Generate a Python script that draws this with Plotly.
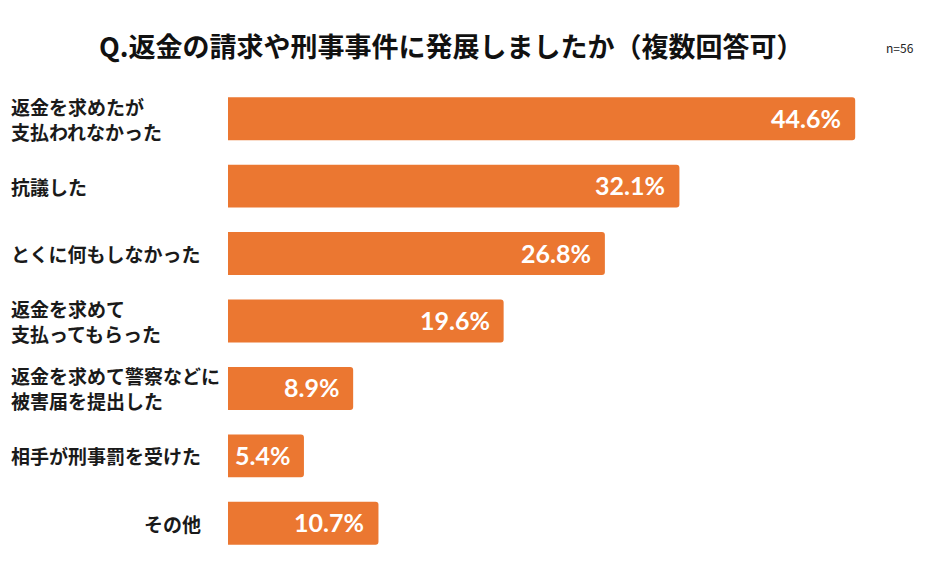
import plotly.graph_objects as go

categories = ["返金を求めたが<br>支払われなかった", "抗議した", "とくに何もしなかった",
              "返金を求めて<br>支払ってもらった", "返金を求めて警察などに<br>被害届を提出した",
              "相手が刑事罰を受けた", "その他"]
values = [44.6, 32.1, 26.8, 19.6, 8.9, 5.4, 10.7]
value_labels = ["44.6%", "32.1%", "26.8%", "19.6%", "8.9%", "5.4%", "10.7%"]
title = "Q.返金の請求や刑事事件に発展しましたか（複数回答可）"
n_label = "n=56"

OFF = 8  # page body margin
W, H = 934 - 2 * OFF, 573 - 2 * OFF
ML, MT = 228 - OFF, 85 - OFF
XMAX = 48
PW = 675
MR = W - ML - PW
PB = 557 - OFF
MB = H - PB
PH = H - MT - MB
COLOR = "#EB7731"
FONT = "Noto Sans CJK JP"

fig = go.Figure(go.Bar(
    x=values, y=categories, orientation="h",
    marker=dict(color=COLOR, line=dict(width=0)),
    hoverinfo="skip",
))

annotations = []
for c, v, t in zip(categories, values, value_labels):
    annotations.append(dict(
        x=v, y=c, xref="x", yref="y", text="<b>" + t + "</b>", showarrow=False,
        xanchor="right", xshift=-12, yshift=1,
        font=dict(family="Lato", size=25, color="white"),
    ))
    right = (c == "その他")
    px = 203 if right else 9
    annotations.append(dict(
        x=(px - OFF - ML) / PW, y=c, xref="paper", yref="y", text="<b>" + c + "</b>",
        showarrow=False, xanchor="right" if right else "left", align="left",
        font=dict(family=FONT, size=19, color="#1a1a1a"),
    ))

annotations.append(dict(
    x=(451 - OFF - ML) / PW, y=1 + (MT - (45 - OFF)) / PH, xref="paper", yref="paper",
    text="<b>" + title + "</b>", showarrow=False, xanchor="center", yanchor="middle",
    font=dict(family=FONT, size=27, color="#111111"),
))
annotations.append(dict(
    x=(900 - OFF - ML) / PW, y=1 + (MT - (47 - OFF)) / PH, xref="paper", yref="paper",
    text=n_label, showarrow=False, xanchor="center", yanchor="middle",
    font=dict(family=FONT, size=12, color="#222222"),
))

fig.update_layout(
    width=W, height=H,
    margin=dict(l=ML, r=MR, t=MT, b=MB, pad=0),
    paper_bgcolor="white", plot_bgcolor="white",
    bargap=0.363, barcornerradius=3,
    showlegend=False,
    xaxis=dict(range=[0, XMAX], visible=False, fixedrange=True),
    yaxis=dict(autorange="reversed", showticklabels=False, showgrid=False,
               zeroline=False, showline=False, ticks="", fixedrange=True),
    annotations=annotations,
)

fig.write_html("out.html", config=dict(displayModeBar=False))
